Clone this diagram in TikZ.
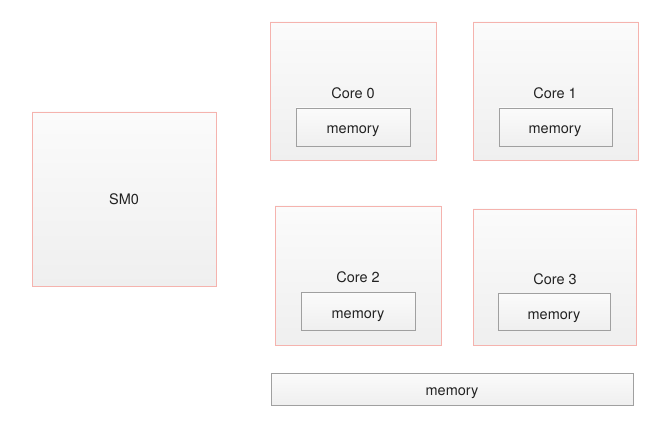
\documentclass[tikz,border=0pt]{standalone}
\usepackage{fontspec}
\setmainfont{TeX Gyre Heros}
\definecolor{pinkline}{HTML}{F5B3AE}
\definecolor{grayline}{HTML}{A0A0A0}
\definecolor{topfill}{HTML}{FBFBFB}
\definecolor{botfill}{HTML}{EFEFEF}
\definecolor{txt}{HTML}{222222}
\begin{document}
\begin{tikzpicture}[x=1pt,y=-1pt,
  outerbox/.style={draw=pinkline,line width=0.9pt,top color=topfill,bottom color=botfill},
  memb/.style={draw=grayline,line width=0.9pt,top color=topfill,bottom color=botfill},
  lbl/.style={font=\fontsize{14.5}{16}\selectfont,text=txt,inner sep=0pt,anchor=base}]
\useasboundingbox (0,0) rectangle (670,433);
% SM0
\draw[outerbox] (32,112) rectangle (216,286);
\node[lbl] (sm) at (124,205) {SM0};
% Core 0
\draw[outerbox] (270,22) rectangle (436,160);
\node[lbl] (c0) at (353,99) {Core 0};
\draw[memb] (296,108) rectangle (410,146);
\node[lbl] (m0) at (353,134) {memory};
% Core 1
\draw[outerbox] (473,22) rectangle (638,160);
\node[lbl] (c1) at (555,99) {Core 1};
\draw[memb] (499,108) rectangle (612,146);
\node[lbl] (m1) at (555,134) {memory};
% Core 2
\draw[outerbox] (275,206) rectangle (441,345);
\node[lbl] (c2) at (358,283) {Core 2};
\draw[memb] (301,292) rectangle (415,330);
\node[lbl] (m2) at (358,318) {memory};
% Core 3
\draw[outerbox] (473,209) rectangle (636,345);
\node[lbl] (c3) at (555,284) {Core 3};
\draw[memb] (498,293) rectangle (610,330);
\node[lbl] (m3) at (554,319) {memory};
% bottom memory
\draw[memb] (271,373) rectangle (633,405);
\node[lbl] (mb) at (452,395) {memory};
\end{tikzpicture}
\end{document}
